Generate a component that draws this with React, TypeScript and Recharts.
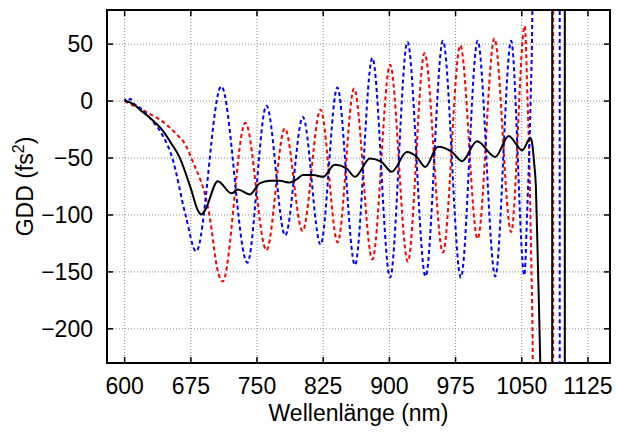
import React from 'react';
import {
  LineChart,
  Line,
  XAxis,
  YAxis,
  CartesianGrid,
  ReferenceLine,
  ReferenceArea,
  Label,
} from 'recharts';

// ---- axis setup ----
const xTicks = [600, 675, 750, 825, 900, 975, 1050, 1125];
const yTicks = [-200, -150, -100, -50, 0, 50];
const xDomain: [number, number] = [580, 1150];
const yDomain: [number, number] = [-230, 80];

// ---- series: wavelength (nm) and GDD (fs^2) ----
const redWl = [600, 605, 613, 628, 643, 658, 670, 675.5, 696, 705.7, 711, 736.8, 760.7, 781.5, 801.6, 822, 841.4, 860, 880.7, 900.8, 920.9, 939.8, 960.7, 980.3, 1000, 1019, 1038, 1053.4, 1056.6, 1058.5, 1060.5, 1062.5, 1064, 1070, 1085.5, 1085.7, 1150];
const redGdd = [0, -2, -5, -11, -18, -28.5, -40, -50, -100, -150, -158.5, -19, -131, -24, -114, -7.5, -124, 11, -139, 32, -141, 42, -133, 49, -121, 55, -115, 66, 0, -50, -130, -230, -500, -3000, -3000, 3000, 3000];

const blueWl = [600, 603, 606.5, 610, 614, 620.5, 632, 643, 654, 669, 681, 709.5, 739, 760.7, 782, 802, 822, 841, 861, 880.7, 900.8, 920.5, 941, 960.7, 981, 1000, 1020, 1038, 1053, 1056, 1060, 1062, 1064, 1068, 1092.9, 1093.1, 1150];
const blueGdd = [2, -1, 2, -2, -4, -8, -18, -30, -50, -100, -132, 13, -142, -4, -118, -14, -126, 12, -144, 38, -155, 52, -154, 53, -155, 53, -154, 53, -153, -100, 0, 80, 400, 3000, 3000, -3000, -3000];

const blackWl = [600, 609, 620.5, 632, 643, 652.7, 662, 675.5, 683, 687, 691, 705.6, 721, 728.4, 741.7, 753, 764.4, 775.8, 787, 794.8, 802, 813.6, 825, 838, 851.6, 861, 878, 891, 902.7, 919.8, 931, 940.6, 955, 971, 982.3, 999.3, 1020, 1035.2, 1050.5, 1059.9, 1062, 1064, 1066, 1068.5, 1071, 1074, 1078, 1084.4, 1084.6, 1098.7, 1098.9, 1150];
const blackGdd = [0.5, -2.3, -9.6, -17, -25.7, -37, -49, -78, -96, -99.5, -96, -70.3, -81, -77.6, -82, -72.3, -70, -70, -71.5, -68.8, -65, -65, -66.5, -56, -59.2, -66.5, -50.4, -53.4, -62, -44.7, -49, -57.8, -40, -44.7, -52.8, -35.3, -49, -30.6, -43.2, -32.4, -38, -54, -75, -150, -230, -400, -3000, -3000, 3000, 3000, -3000, -3000];

const zip = (xs: number[], ys: number[]) => xs.map((x, i) => ({ x, y: ys[i] }));
const redData = zip(redWl, redGdd);
const blueData = zip(blueWl, blueGdd);
const blackData = zip(blackWl, blackGdd);

// ---- layout ----
const CHART_W = 617;
const CHART_H = 432;
const Y_AXIS_W = 107;
const X_AXIS_H = 69;
const PLOT_W = 503;
const PLOT_H = 353;
const TICK_PX = 6;
const FONT = '"Liberation Sans", Arial, Helvetica, sans-serif';
const FS = 23;

const tickLenX = (TICK_PX * (xDomain[1] - xDomain[0])) / PLOT_W;
const tickLenY = (TICK_PX * (yDomain[1] - yDomain[0])) / PLOT_H;

const fmt = (v: number) => (v < 0 ? '\u2212' + Math.abs(v) : String(v));

const XTick = (props: any) => {
  const { x, y, payload } = props;
  return (
    <text x={x} y={y + 31} textAnchor="middle" fontSize={FS} fontFamily={FONT} fill="#000">
      {payload.value}
    </text>
  );
};

const YTick = (props: any) => {
  const { x, y, payload } = props;
  return (
    <text x={x - 14} y={y + 8} textAnchor="end" fontSize={FS} fontFamily={FONT} fill="#000">
      {fmt(payload.value)}
    </text>
  );
};

const XLabel = (props: any) => {
  const vb = props.viewBox || { x: Y_AXIS_W, y: 10 + PLOT_H, width: PLOT_W, height: X_AXIS_H };
  return (
    <text
      x={vb.x + vb.width / 2}
      y={vb.y + 58}
      textAnchor="middle"
      fontSize={FS}
      fontFamily={FONT}
      fill="#000"
    >
      Wellenlänge (nm)
    </text>
  );
};

const YLabel = (props: any) => {
  const vb = props.viewBox || { x: 0, y: 10, width: Y_AXIS_W, height: PLOT_H };
  const cx = 33;
  const cy = vb.y + vb.height / 2;
  return (
    <text
      x={cx}
      y={cy}
      transform={`rotate(-90, ${cx}, ${cy})`}
      textAnchor="middle"
      fontSize={FS}
      fontFamily={FONT}
      fill="#000"
    >
      <tspan>GDD (fs</tspan>
      <tspan dy={-9} fontSize={16}>2</tspan>
      <tspan dy={9}>)</tspan>
    </text>
  );
};

export default function App() {
  return (
    <div style={{ position: 'absolute', left: 0, top: 0, background: '#fff' }}>
      <LineChart
        width={CHART_W}
        height={CHART_H}
        margin={{ top: 10, right: CHART_W - Y_AXIS_W - PLOT_W, bottom: 0, left: 0 }}
      >
        <CartesianGrid stroke="#8a8a8a" strokeDasharray="1 2" strokeWidth={1} />
        <XAxis
          type="number"
          dataKey="x"
          domain={xDomain}
          ticks={xTicks}
          allowDataOverflow
          interval={0}
          tickSize={0}
          tickMargin={0}
          tickLine={false}
          axisLine={false}
          height={X_AXIS_H}
          tick={<XTick />}
        >
          <Label content={<XLabel />} />
        </XAxis>
        <YAxis
          type="number"
          dataKey="y"
          domain={yDomain}
          ticks={yTicks}
          allowDataOverflow
          interval={0}
          tickSize={0}
          tickMargin={0}
          tickLine={false}
          axisLine={false}
          width={Y_AXIS_W}
          tick={<YTick />}
        >
          <Label content={<YLabel />} />
        </YAxis>

        {xTicks.map((t) => (
          <ReferenceLine
            key={'xb' + t}
            segment={[{ x: t, y: yDomain[0] }, { x: t, y: yDomain[0] + tickLenY }]}
            stroke="#000"
            strokeWidth={1.5}
          />
        ))}
        {xTicks.map((t) => (
          <ReferenceLine
            key={'xt' + t}
            segment={[{ x: t, y: yDomain[1] }, { x: t, y: yDomain[1] - tickLenY }]}
            stroke="#000"
            strokeWidth={1.5}
          />
        ))}
        {yTicks.map((t) => (
          <ReferenceLine
            key={'yl' + t}
            segment={[{ x: xDomain[0], y: t }, { x: xDomain[0] + tickLenX, y: t }]}
            stroke="#000"
            strokeWidth={1.5}
          />
        ))}
        {yTicks.map((t) => (
          <ReferenceLine
            key={'yr' + t}
            segment={[{ x: xDomain[1], y: t }, { x: xDomain[1] - tickLenX, y: t }]}
            stroke="#000"
            strokeWidth={1.5}
          />
        ))}

        <Line
          data={redData}
          dataKey="y"
          type="monotone"
          stroke="#ff0000"
          strokeWidth={2}
          strokeDasharray="4 3"
          dot={false}
          activeDot={false}
          isAnimationActive={false}
        />
        <Line
          data={blueData}
          dataKey="y"
          type="monotone"
          stroke="#0000ff"
          strokeWidth={2}
          strokeDasharray="4 3"
          dot={false}
          activeDot={false}
          isAnimationActive={false}
        />
        <Line
          data={blackData}
          dataKey="y"
          type="monotone"
          stroke="#000000"
          strokeWidth={2}
          dot={false}
          activeDot={false}
          isAnimationActive={false}
        />
        <ReferenceArea
          x1={xDomain[0]}
          x2={xDomain[1]}
          y1={yDomain[0]}
          y2={yDomain[1]}
          fill="none"
          fillOpacity={0}
          stroke="#000"
          strokeWidth={2}
          ifOverflow="visible"
        />
      </LineChart>
    </div>
  );
}
